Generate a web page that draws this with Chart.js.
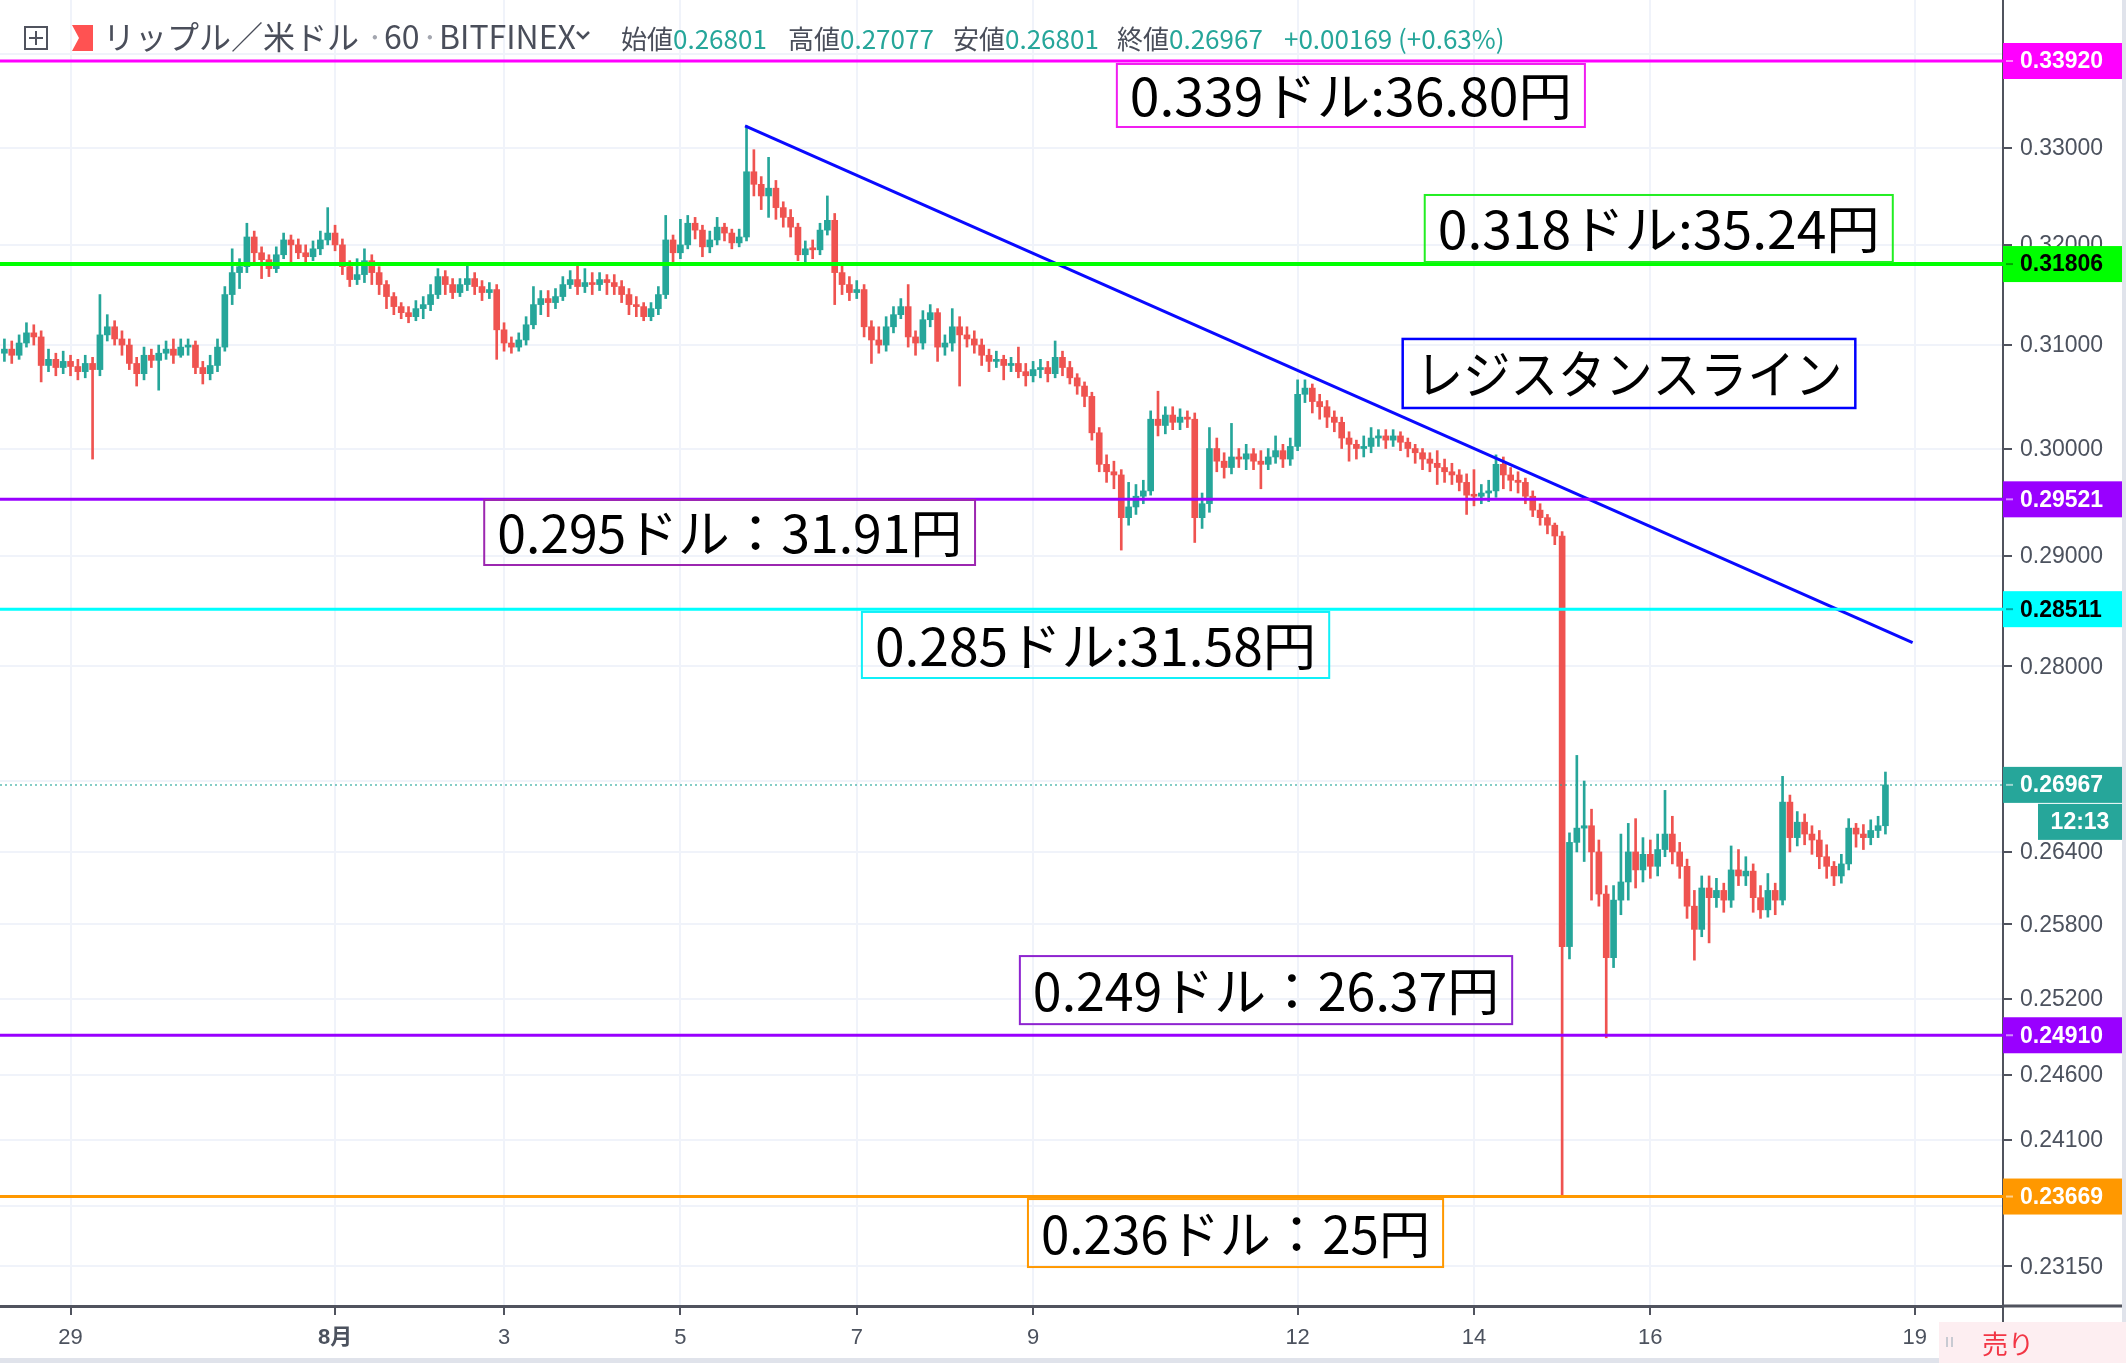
<!DOCTYPE html>
<html lang="ja">
<head>
<meta charset="utf-8">
<title>リップル／米ドル · 60 · BITFINEX</title>
<script src="https://cdn.jsdelivr.net/npm/chart.js@4.4.1/dist/chart.umd.min.js"></script>
<style>
  html, body { margin: 0; padding: 0; background: #fff; }
  #wrap { width: 2126px; height: 1363px; }
</style>
</head>
<body>
<div id="wrap"><canvas id="xrpChart" width="2126" height="1363"></canvas></div>
<script>
// XRP/USD Bitfinex, 2時間足に間引き (index 0 = 7/28 06:00)
var firstOpen = 0.3092;
var closes = [
  .3096, .3090, .3102, .3112, .3108, .3080, .3086, .3078, .3084, .3079,
  .3074, .3082, .3076, .3110, .3118, .3106, .3100, .3082, .3072, .3090,
  .3085, .3092, .3096, .3090, .3098, .3100, .3078, .3072, .3080, .3098,
  .3150, .3172, .3178, .3208, .3192, .3185, .3176, .3190, .3205, .3200,
  .3192, .3188, .3196, .3205, .3212, .3200, .3178, .3165, .3170, .3184,
  .3172, .3160, .3148, .3138, .3132, .3128, .3136, .3140, .3150, .3168,
  .3160, .3152, .3160, .3166, .3158, .3152, .3155, .3115, .3102, .3098,
  .3105, .3120, .3140, .3146, .3142, .3148, .3160, .3165, .3158, .3162,
  .3160, .3165, .3162, .3158, .3150, .3140, .3138, .3128, .3136, .3150,
  .3205, .3192, .3200, .3222, .3215, .3198, .3205, .3218, .3212, .3202,
  .3208, .3275, .3262, .3250, .3258, .3238, .3228, .3218, .3190, .3196,
  .3195, .3215, .3225, .3172, .3160, .3152, .3155, .3118, .3105, .3100,
  .3118, .3130, .3138, .3108, .3102, .3125, .3132, .3098, .3102, .3118,
  .3110, .3106, .3100, .3090, .3084, .3086, .3080, .3082, .3074, .3070,
  .3076, .3078, .3072, .3088, .3078, .3068, .3060, .3050, .3015, .2985,
  .2978, .2975, .2935, .2945, .2955, .2960, .3028, .3022, .3032, .3025,
  .3030, .3028, .2935, .2948, .3000, .2988, .2982, .2992, .2990, .2995,
  .2988, .2985, .2992, .2998, .2990, .3002, .3052, .3058, .3045, .3040,
  .3030, .3025, .3010, .3004, .3000, .3002, .3010, .3012, .3008, .3012,
  .3006, .3000, .2996, .2990, .2986, .2982, .2978, .2975, .2968, .2956,
  .2955, .2958, .2960, .2985, .2975, .2970, .2968, .2955, .2942, .2935,
  .2928, .2918, .2562, .2648, .2660, .2662, .2640, .2605, .2553, .2600,
  .2615, .2640, .2625, .2638, .2628, .2642, .2655, .2640, .2628, .2595,
  .2576, .2610, .2602, .2608, .2600, .2625, .2620, .2624, .2602, .2592,
  .2608, .2600, .2682, .2652, .2665, .2655, .2650, .2636, .2628, .2620,
  .2630, .2660, .2655, .2652, .2658, .2662, .26967
];
var highs = [
  .3106, .3104, .3110, .3122, .3120, .3114, .3096, .3092, .3094, .3090,
  .3086, .3090, .3088, .3150, .3130, .3124, .3114, .3106, .3088, .3098,
  .3096, .3100, .3104, .3106, .3106, .3106, .3104, .3084, .3090, .3106,
  .3158, .3196, .3186, .3222, .3214, .3198, .3190, .3198, .3212, .3210,
  .3206, .3200, .3204, .3214, .3238, .3220, .3206, .3184, .3186, .3196,
  .3190, .3178, .3164, .3152, .3142, .3138, .3144, .3148, .3160, .3176,
  .3174, .3166, .3166, .3180, .3172, .3164, .3162, .3160, .3122, .3108,
  .3112, .3128, .3158, .3154, .3154, .3156, .3168, .3174, .3182, .3176,
  .3172, .3172, .3170, .3170, .3164, .3156, .3148, .3142, .3142, .3158,
  .3230, .3210, .3226, .3230, .3228, .3220, .3214, .3228, .3222, .3216,
  .3216, .3323, .3298, .3270, .3290, .3266, .3244, .3236, .3222, .3204,
  .3205, .3222, .3250, .3232, .3180, .3168, .3164, .3160, .3124, .3118,
  .3128, .3138, .3146, .3160, .3114, .3134, .3140, .3136, .3110, .3136,
  .3128, .3118, .3114, .3106, .3096, .3094, .3090, .3088, .3098, .3082,
  .3084, .3086, .3084, .3104, .3094, .3084, .3072, .3064, .3054, .3020,
  .2994, .2988, .2980, .2968, .2966, .2970, .3036, .3055, .3040, .3040,
  .3038, .3036, .3034, .2958, .3020, .3010, .2996, .3024, .3000, .3004,
  .3000, .2998, .3000, .3012, .3004, .3010, .3066, .3066, .3062, .3052,
  .3046, .3036, .3030, .3016, .3008, .3012, .3020, .3018, .3018, .3018,
  .3016, .3010, .3004, .3000, .2996, .2998, .2990, .2986, .2980, .2976,
  .2980, .2966, .2970, .2994, .2992, .2982, .2978, .2972, .2960, .2948,
  .2938, .2930, .2922, .2656, .2722, .2700, .2676, .2650, .2612, .2612,
  .2655, .2664, .2668, .2652, .2650, .2655, .2692, .2670, .2648, .2634,
  .2608, .2620, .2620, .2618, .2614, .2645, .2642, .2636, .2630, .2612,
  .2622, .2614, .2704, .2688, .2674, .2672, .2662, .2658, .2646, .2632,
  .2638, .2668, .2664, .2663, .2667, .2670, .27077
];
var lows = [
  .3084, .3082, .3086, .3098, .3100, .3064, .3074, .3070, .3072, .3070,
  .3066, .3068, .2990, .3070, .3104, .3100, .3090, .3076, .3060, .3066,
  .3078, .3056, .3086, .3082, .3088, .3090, .3072, .3062, .3066, .3074,
  .3094, .3140, .3156, .3172, .3180, .3166, .3168, .3172, .3186, .3180,
  .3186, .3182, .3184, .3190, .3200, .3194, .3170, .3158, .3160, .3162,
  .3160, .3150, .3136, .3130, .3126, .3122, .3124, .3126, .3134, .3146,
  .3150, .3146, .3148, .3154, .3150, .3144, .3146, .3086, .3094, .3092,
  .3094, .3100, .3116, .3130, .3128, .3136, .3144, .3156, .3150, .3152,
  .3150, .3154, .3150, .3150, .3142, .3130, .3128, .3124, .3124, .3130,
  .3146, .3180, .3186, .3196, .3206, .3188, .3192, .3200, .3204, .3196,
  .3198, .3204, .3250, .3236, .3228, .3226, .3218, .3208, .3184, .3180,
  .3186, .3190, .3210, .3140, .3150, .3144, .3146, .3108, .3082, .3092,
  .3094, .3112, .3126, .3098, .3090, .3096, .3118, .3084, .3090, .3094,
  .3060, .3098, .3092, .3080, .3074, .3078, .3066, .3074, .3068, .3060,
  .3064, .3068, .3064, .3068, .3070, .3062, .3052, .3040, .3008, .2978,
  .2968, .2962, .2905, .2928, .2938, .2948, .2956, .3012, .3014, .3018,
  .3018, .3020, .2912, .2925, .2940, .2978, .2972, .2976, .2982, .2980,
  .2980, .2962, .2980, .2986, .2982, .2984, .2998, .3044, .3034, .3028,
  .3020, .3016, .3000, .2988, .2990, .2992, .2996, .3002, .3000, .3002,
  .2998, .2992, .2986, .2980, .2978, .2966, .2968, .2966, .2960, .2938,
  .2946, .2948, .2950, .2954, .2962, .2960, .2958, .2948, .2936, .2928,
  .2920, .2910, .2367, .2552, .2640, .2632, .2600, .2595, .2489, .2545,
  .2588, .2600, .2610, .2615, .2618, .2620, .2636, .2630, .2618, .2585,
  .2551, .2570, .2565, .2594, .2590, .2594, .2612, .2612, .2590, .2585,
  .2586, .2588, .2596, .2640, .2645, .2646, .2638, .2626, .2618, .2612,
  .2614, .2625, .2644, .2642, .2646, .2652, .2655
];

// 日付目盛 (バー番号) と価格目盛
var dayTicks = [9, 45, 68, 92, 116, 140, 176, 200, 224, 260];
var dayLabels = ['29', '8月', '3', '5', '7', '9', '12', '14', '16', '19'];
var priceTicks = [0.34, 0.33, 0.32, 0.31, 0.30, 0.29, 0.28, 0.27, 0.264, 0.258, 0.252, 0.246, 0.241, 0.236, 0.2315];

// 水平線 (サポート / レジスタンス)
var levelPrices = [0.33920, 0.31806, 0.29521, 0.28511, 0.24910, 0.23669];
var levelColors = ['#ff00ff', '#00ff00', '#9900ff', '#00ffff', '#9900ff', '#ff9800'];
var levelText = ['#ffffff', '#000000', '#ffffff', '#000000', '#ffffff', '#ffffff'];
var levelWidths = [3, 4, 3, 3, 3, 3];

// レジスタンスライン
var trendIdx = [100.8, 259.7];
var trendPrice = [0.3323, 0.2821];

var lastPrice = 0.26967;
var countdown = '12:13';

var notes = [
  { text: '0.339ドル:36.80円', color: '#f01ef0', from: 151.4, to: 215.1, hi: 0.33888, lo: 0.33218, lw: 2 },
  { text: '0.318ドル:35.24円', color: '#22ee22', from: 193.3, to: 257.0, hi: 0.32510, lo: 0.31827, lw: 2 },
  { text: 'レジスタンスライン', color: '#0000ff', from: 190.3, to: 251.9, hi: 0.31060, lo: 0.30388, lw: 2.5 },
  { text: '0.295ドル：31.91円', color: '#9c27b0', from: 65.3, to: 132.1, hi: 0.29515, lo: 0.28913, lw: 2 },
  { text: '0.285ドル:31.58円', color: '#10f0f8', from: 116.7, to: 180.3, hi: 0.28486, lo: 0.27896, lw: 2 },
  { text: '0.249ドル：26.37円', color: '#8e24d0', from: 138.2, to: 205.2, hi: 0.25543, lo: 0.24998, lw: 2 },
  { text: '0.236ドル：25円', color: '#ff9800', from: 139.3, to: 195.8, hi: 0.23650, lo: 0.23146, lw: 2 }
];

var upColor = '#26a69a';
var downColor = '#ef5350';
var axisColor = '#50535e';
var labelColor = '#4c525e';
var gridColor = '#f0f3fa';

var opens = closes.map(function (c, i) { return i === 0 ? firstOpen : closes[i - 1]; });
var candleColors = closes.map(function (c, i) { return c >= opens[i] ? upColor : downColor; });
var bodyData = closes.map(function (c, i) { return { x: i, y: [opens[i], c] }; });
var wickData = closes.map(function (c, i) { return { x: i, y: [lows[i], highs[i]] }; });

var overlay = {
  id: 'overlay',
  afterDraw: function (chart) {
    var ctx = chart.ctx;
    var area = chart.chartArea;
    var xs = chart.scales.x;
    var ys = chart.scales.y;
    ctx.save();

    // 水平線
    levelPrices.forEach(function (p, k) {
      var y = ys.getPixelForValue(p);
      ctx.strokeStyle = levelColors[k];
      ctx.lineWidth = levelWidths[k];
      ctx.beginPath();
      ctx.moveTo(area.left, y);
      ctx.lineTo(area.right, y);
      ctx.stroke();
    });

    // 現在値の点線
    var yl = ys.getPixelForValue(lastPrice);
    ctx.strokeStyle = 'rgba(38,166,154,0.75)';
    ctx.lineWidth = 1.5;
    ctx.setLineDash([2, 3]);
    ctx.beginPath();
    ctx.moveTo(area.left, yl);
    ctx.lineTo(area.right, yl);
    ctx.stroke();
    ctx.setLineDash([]);

    // 注記ボックス
    notes.forEach(function (n) {
      var x0 = xs.getPixelForValue(n.from), x1 = xs.getPixelForValue(n.to);
      var y0 = ys.getPixelForValue(n.hi), y1 = ys.getPixelForValue(n.lo);
      ctx.strokeStyle = n.color;
      ctx.lineWidth = n.lw;
      ctx.strokeRect(x0, y0, x1 - x0, y1 - y0);
      ctx.font = '52px "Noto Sans CJK JP", sans-serif';
      ctx.fillStyle = '#000000';
      ctx.textBaseline = 'middle';
      ctx.textAlign = 'center';
      var w = ctx.measureText(n.text).width;
      var s = Math.max(0.75, Math.min(1.25, (x1 - x0 - 26) / w));
      ctx.save();
      ctx.translate((x0 + x1) / 2, (y0 + y1) / 2 + 1);
      ctx.scale(s, 1);
      ctx.fillText(n.text, 0, 0);
      ctx.restore();
    });

    // 価格軸ラベル
    var axX = area.right;
    ctx.textAlign = 'left';
    ctx.textBaseline = 'middle';
    ctx.font = '23px "Liberation Sans", sans-serif';
    ctx.fillStyle = labelColor;
    priceTicks.forEach(function (v) {
      ctx.fillText(v.toFixed(5), axX + 17, ys.getPixelForValue(v) + 1);
    });

    // 価格タグ
    function tag(p, bg, fg) {
      var y = ys.getPixelForValue(p);
      ctx.fillStyle = bg;
      ctx.fillRect(axX, y - 18, 119, 36);
      ctx.strokeStyle = fg === '#000000' ? 'rgba(0,0,0,0.35)' : 'rgba(255,255,255,0.55)';
      ctx.lineWidth = 2;
      ctx.beginPath();
      ctx.moveTo(axX + 3, y);
      ctx.lineTo(axX + 10, y);
      ctx.stroke();
      ctx.fillStyle = fg;
      ctx.font = 'bold 23px "Liberation Sans", sans-serif';
      ctx.fillText(p.toFixed(5), axX + 17, y + 1);
      return y;
    }
    levelPrices.forEach(function (p, k) { tag(p, levelColors[k], levelText[k]); });
    var ty = tag(lastPrice, upColor, '#ffffff');
    ctx.fillStyle = upColor;
    ctx.fillRect(axX + 35, ty + 19, 84, 36);
    ctx.fillStyle = '#ffffff';
    ctx.textAlign = 'center';
    ctx.font = 'bold 23px "Liberation Sans", sans-serif';
    ctx.fillText(countdown, axX + 77, ty + 38);

    // 軸線の延長
    ctx.strokeStyle = axisColor;
    ctx.lineWidth = 3;
    ctx.beginPath();
    ctx.moveTo(area.right, area.bottom);
    ctx.lineTo(2122, area.bottom);
    ctx.stroke();
    ctx.lineWidth = 2;
    ctx.beginPath();
    ctx.moveTo(area.right, area.bottom);
    ctx.lineTo(area.right, 1322);
    ctx.stroke();

    // 右端の帯と下部パネル
    ctx.fillStyle = '#e0e3eb';
    ctx.fillRect(2122, 0, 4, 1322);
    ctx.fillRect(0, 1358, 1939, 5);
    ctx.fillStyle = '#fdeef1';
    ctx.fillRect(1939, 1322, 187, 41);
    ctx.fillStyle = '#c8cad2';
    ctx.fillRect(1946, 1337, 2, 10);
    ctx.fillRect(1951, 1337, 2, 10);
    ctx.fillStyle = '#f23645';
    ctx.textAlign = 'left';
    ctx.font = '26px "Noto Sans CJK JP", sans-serif';
    ctx.fillText('売り', 1982, 1344);

    // ヘッダー
    ctx.strokeStyle = '#50535e';
    ctx.lineWidth = 2;
    ctx.strokeRect(25, 27, 22, 22);
    ctx.beginPath();
    ctx.moveTo(36, 31); ctx.lineTo(36, 45);
    ctx.moveTo(29, 38); ctx.lineTo(43, 38);
    ctx.stroke();
    ctx.fillStyle = '#ff5252';
    ctx.beginPath();
    ctx.moveTo(72, 25); ctx.lineTo(93, 25); ctx.lineTo(93, 51);
    ctx.lineTo(72, 51); ctx.lineTo(79, 38); ctx.closePath();
    ctx.fill();

    ctx.textBaseline = 'middle';
    ctx.font = '32px "Noto Sans CJK JP", sans-serif';
    ctx.fillStyle = '#4a4e5a';
    ctx.fillText('リップル／米ドル', 103, 37);
    ctx.fillText('60', 384, 37);
    ctx.fillText('BITFINEX', 439, 37);
    ctx.fillStyle = '#a3a6af';
    ctx.fillText('·', 366, 37);
    ctx.fillText('·', 421, 37);
    ctx.strokeStyle = '#4a4e5a';
    ctx.lineWidth = 2.5;
    ctx.beginPath();
    ctx.moveTo(577, 32); ctx.lineTo(583, 38); ctx.lineTo(589, 32);
    ctx.stroke();

    var stats = [['始値', '0.26801', 621], ['高値', '0.27077', 788], ['安値', '0.26801', 953], ['終値', '0.26967', 1117]];
    ctx.font = '26px "Noto Sans CJK JP", sans-serif';
    stats.forEach(function (s) {
      ctx.fillStyle = '#4a4e5a';
      ctx.fillText(s[0], s[2], 39);
      var w = ctx.measureText(s[0]).width;
      ctx.fillStyle = upColor;
      ctx.fillText(s[1], s[2] + w, 39);
    });
    ctx.fillStyle = upColor;
    ctx.fillText('+0.00169 (+0.63%)', 1284, 39);

    ctx.restore();
  }
};

Chart.defaults.font.family = '"Liberation Sans", "Noto Sans CJK JP", sans-serif';

new Chart(document.getElementById('xrpChart').getContext('2d'), {
  type: 'bar',
  data: {
    datasets: [
      {
        type: 'line',
        data: trendIdx.map(function (x, k) { return { x: x, y: trendPrice[k] }; }),
        borderColor: '#0a0aff',
        borderWidth: 3,
        pointRadius: 0,
        order: 0
      },
      {
        data: bodyData,
        backgroundColor: candleColors,
        barThickness: 6,
        minBarLength: 2,
        grouped: false,
        order: 1
      },
      {
        data: wickData,
        backgroundColor: candleColors,
        barThickness: 2,
        grouped: false,
        order: 2
      }
    ]
  },
  options: {
    responsive: false,
    devicePixelRatio: 1,
    animation: false,
    layout: { padding: 0 },
    plugins: {
      legend: { display: false },
      tooltip: { enabled: false }
    },
    scales: {
      x: {
        type: 'linear',
        min: -0.6,
        max: 272,
        offset: false,
        afterBuildTicks: function (s) {
          s.ticks = dayTicks.map(function (v) { return { value: v }; });
        },
        afterFit: function (s) { s.height = 57; },
        grid: {
          offset: false,
          color: gridColor,
          lineWidth: 2,
          tickColor: axisColor,
          tickLength: 9,
          tickWidth: 2
        },
        border: { color: axisColor, width: 3 },
        ticks: {
          autoSkip: false,
          maxRotation: 0,
          padding: 10,
          color: labelColor,
          font: function (c) {
            return { size: 22, weight: c.tick && c.tick.value === 45 ? 'bold' : 'normal' };
          },
          callback: function (v) { return dayLabels[dayTicks.indexOf(v)]; }
        }
      },
      y: {
        type: 'logarithmic',
        position: 'right',
        min: 0.22862,
        max: 0.34582,
        bounds: 'data',
        afterBuildTicks: function (s) {
          s.ticks = priceTicks.map(function (v) { return { value: v }; });
        },
        afterFit: function (s) { s.width = 123; },
        grid: {
          color: gridColor,
          lineWidth: 2,
          tickColor: axisColor,
          tickLength: 9,
          tickWidth: 2
        },
        border: { color: axisColor, width: 2 },
        ticks: { display: false }
      }
    }
  },
  plugins: [overlay]
});
</script>
</body>
</html>
